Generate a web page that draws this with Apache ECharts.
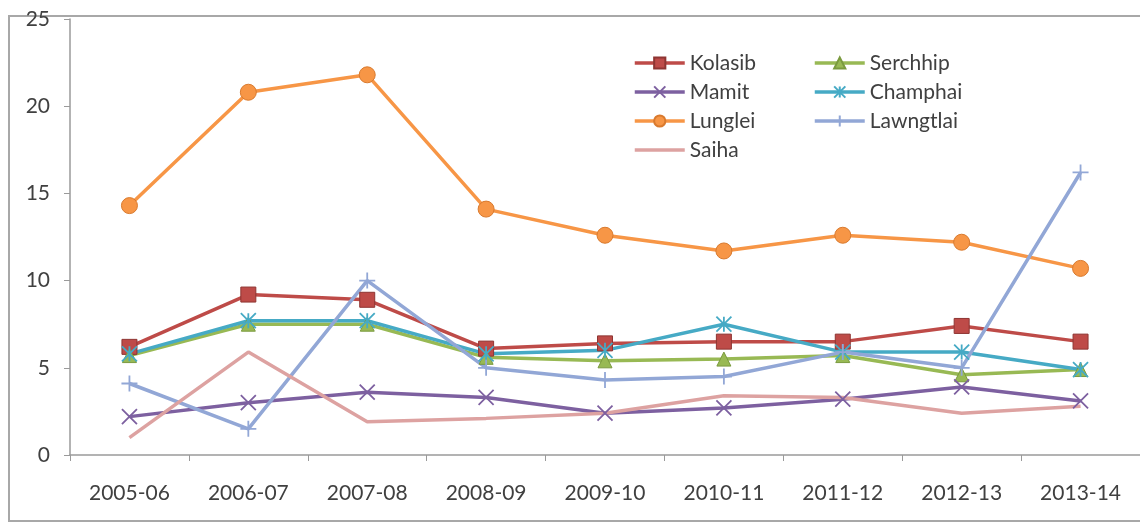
<!DOCTYPE html>
<html>
<head>
<meta charset="utf-8">
<script src="https://cdn.jsdelivr.net/npm/echarts@6/dist/echarts.min.js"></script>
<style>
  html, body { margin: 0; padding: 0; background: #fff; }
  #chart { width: 1140px; height: 523px; }
</style>
</head>
<body>
<div id="chart"></div>
<script>
// 年份(横轴)
var categories = ['2005-06', '2006-07', '2007-08', '2008-09', '2009-10', '2010-11', '2011-12', '2012-13', '2013-14'];
// 纵轴刻度
var yTicks = [0, 5, 10, 15, 20, 25];
// 各区数据(%)
var kolasib   = [6.2, 9.2, 8.9, 6.1, 6.4, 6.5, 6.5, 7.4, 6.5];
var serchhip  = [5.7, 7.5, 7.5, 5.6, 5.4, 5.5, 5.7, 4.6, 4.9];
var mamit     = [2.2, 3.0, 3.6, 3.3, 2.4, 2.7, 3.2, 3.9, 3.1];
var champhai  = [5.8, 7.7, 7.7, 5.8, 6.0, 7.5, 5.9, 5.9, 4.9];
var lunglei   = [14.3, 20.8, 21.8, 14.1, 12.6, 11.7, 12.6, 12.2, 10.7];
var lawngtlai = [4.1, 1.5, 10.0, 5.0, 4.3, 4.5, 5.9, 5.0, 16.2];
var saiha     = [1.0, 5.9, 1.9, 2.1, 2.4, 3.4, 3.3, 2.4, 2.8];

var FONT = 'Lato, "Open Sans", sans-serif';
var TEXT_COLOR = '#404040';

// Excel 风格的标记
var SYM_X = 'path://M0,0L10,10M10,0L0,10';
var SYM_STAR = 'path://M0,0L10,10M10,0L0,10M5,0L5,10';
var SYM_PLUS = 'path://M0,5L10,5M5,0L5,10';

function makeSeries(name, data, color, symbol, size, border) {
  return {
    name: name,
    type: 'line',
    data: data,
    symbol: symbol,
    symbolSize: size,
    showSymbol: symbol !== 'none',
    lineStyle: { color: color, width: 3.5 },
    itemStyle: { color: color, borderColor: border || color, borderWidth: border ? 1 : 1.8 },
    emphasis: { disabled: true }
  };
}

var legendText = { fontSize: 21, lineHeight: 22, color: TEXT_COLOR, fontFamily: FONT };

var chart = echarts.init(document.getElementById('chart'));
var option = {
  animation: false,
  backgroundColor: '#fff',
  textStyle: { fontFamily: FONT },
  graphic: [{
    type: 'rect',
    shape: { x: 9, y: 16, width: 1140, height: 505 },
    style: { fill: 'none', stroke: '#a8a8a8', lineWidth: 2 },
    z: -1
  }],
  grid: {
    left: 70,
    top: 19,
    width: 1080,
    bottom: 68
  },
  // 两列图例
  legend: [{
    orient: 'vertical',
    left: 628,
    top: 47,
    itemWidth: 50,
    itemHeight: 14,
    itemGap: 7,
    lineStyle: { width: 3.5 },
    textStyle: legendText,
    data: ['Kolasib', 'Mamit', 'Lunglei', {
      name: 'Saiha',
      // Saiha 无标记,只显示线
      itemStyle: { color: 'transparent', borderColor: 'transparent' }
    }]
  }, {
    orient: 'vertical',
    left: 808,
    top: 47,
    itemWidth: 50,
    itemHeight: 14,
    itemGap: 7,
    lineStyle: { width: 3.5 },
    textStyle: legendText,
    data: ['Serchhip', 'Champhai', 'Lawngtlai']
  }],
  xAxis: {
    type: 'category',
    data: categories,
    boundaryGap: true,
    axisLine: { lineStyle: { color: '#9a9a9a', width: 1.5 } },
    axisTick: { show: true, length: 6, lineStyle: { color: '#9a9a9a' } },
    axisLabel: { margin: 28, fontSize: 21, color: TEXT_COLOR, fontFamily: FONT, interval: 0 },
    splitLine: { show: false }
  },
  yAxis: {
    type: 'value',
    min: yTicks[0],
    max: yTicks[yTicks.length - 1],
    interval: 5,
    axisLine: { show: true, lineStyle: { color: '#9a9a9a', width: 1.5 } },
    axisTick: { show: true, length: 6, lineStyle: { color: '#9a9a9a' } },
    axisLabel: { margin: 20, fontSize: 21, color: TEXT_COLOR, fontFamily: FONT },
    splitLine: { show: false }
  },
  series: [
    makeSeries('Kolasib', kolasib, '#BE4B48', 'rect', 15, '#8E3532'),
    makeSeries('Serchhip', serchhip, '#98B954', 'triangle', 14, '#7A9A3E'),
    makeSeries('Mamit', mamit, '#7D60A0', SYM_X, 15),
    makeSeries('Champhai', champhai, '#46AAC5', SYM_STAR, 15),
    makeSeries('Lunglei', lunglei, '#F79646', 'circle', 16, '#D97A2E'),
    makeSeries('Lawngtlai', lawngtlai, '#92A7D6', SYM_PLUS, 16),
    makeSeries('Saiha', saiha, '#DDA2A1', 'none', 0)
  ]
};
chart.setOption(option);
</script>
</body>
</html>
